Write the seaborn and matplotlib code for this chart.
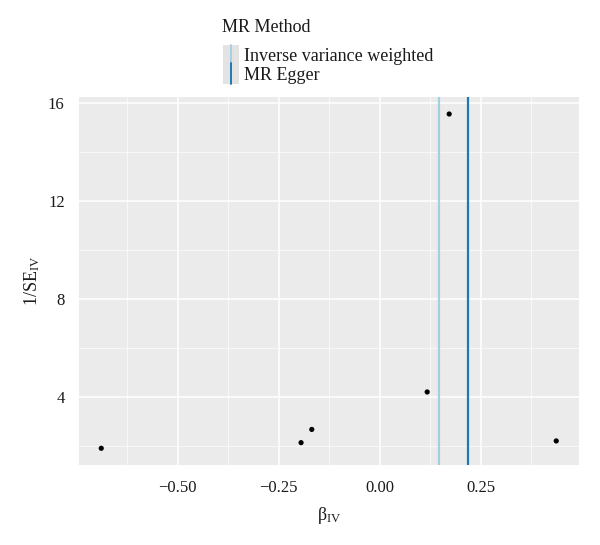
import numpy as np
import pandas as pd
import matplotlib
matplotlib.use("Agg")
import matplotlib.pyplot as plt
import seaborn as sns
from matplotlib.legend_handler import HandlerBase
from matplotlib.patches import Rectangle
from matplotlib.lines import Line2D
from matplotlib.ticker import FixedLocator

# ---- data ----
beta_iv = [-0.689, -0.1945, -0.168, 0.1176, 0.172, 0.437]
inv_se_iv = [1.90, 2.13, 2.67, 4.20, 15.55, 2.20]
methods = ["Inverse variance weighted", "MR Egger"]
method_b = [0.147, 0.218]
method_colors = ["#A6CEE3", "#1F78B4"]
x_ticks = [-0.50, -0.25, 0.00, 0.25]
x_tick_labels = ["\u22120.50", "\u22120.25", "0.00", "0.25"]
y_ticks = [4, 8, 12, 16]
y_tick_labels = ["4", "8", "12", "16"]

df = pd.DataFrame({"b": beta_iv, "inv_se": inv_se_iv})

sns.set_theme(style="darkgrid")
plt.rcParams["font.family"] = ["Liberation Serif", "DejaVu Serif"]
plt.rcParams["mathtext.fontset"] = "custom"
plt.rcParams["mathtext.rm"] = "Liberation Serif"
plt.rcParams["mathtext.it"] = "Liberation Serif:italic"

fig = plt.figure(figsize=(6.0, 5.45), dpi=100)
fig.patch.set_facecolor("white")
ax = fig.add_axes([78.5 / 600, 1 - 465 / 545, (579 - 78.5) / 600, (465 - 97.3) / 545])
ax.set_facecolor("#EBEBEB")

for b, c in zip(method_b, method_colors):
    ax.axvline(b, color=c, lw=1.6, zorder=2)

sns.scatterplot(data=df, x="b", y="inv_se", color="black", s=14, edgecolor="none",
                ax=ax, zorder=3)

xr = max(beta_iv) - min(beta_iv)
yr = max(inv_se_iv) - min(inv_se_iv)
ax.set_xlim(min(beta_iv) - 0.05 * xr, max(beta_iv) + 0.05 * xr)
ax.set_ylim(min(inv_se_iv) - 0.05 * yr, max(inv_se_iv) + 0.05 * yr)

ax.xaxis.set_major_locator(FixedLocator(x_ticks))
ax.set_xticklabels(x_tick_labels)
ax.yaxis.set_major_locator(FixedLocator(y_ticks))
ax.set_yticklabels(y_tick_labels)
ax.xaxis.set_minor_locator(FixedLocator([-0.625, -0.375, -0.125, 0.125, 0.375]))
ax.yaxis.set_minor_locator(FixedLocator([2, 6, 10, 14]))

ax.grid(which="major", color="white", lw=1.1)
ax.grid(which="minor", color="white", lw=0.55, alpha=0.8)
ax.set_axisbelow(True)
for s in ax.spines.values():
    s.set_visible(False)

ax.tick_params(axis="both", which="major", length=2, width=0.8, color="#555555",
               labelsize=12, labelcolor="#1a1a1a", direction="out")
ax.tick_params(axis="y", pad=8)
ax.tick_params(axis="x", pad=9)
ax.tick_params(which="minor", length=0)

ax.set_xlabel(r"$\mathrm{\beta}_{\mathrm{IV}}$", fontsize=13, color="#1a1a1a", labelpad=6)
ax.set_ylabel(r"$\mathrm{1/SE}_{\mathrm{IV}}$", fontsize=13, color="#1a1a1a", labelpad=4)


class VKey(HandlerBase):
    def create_artists(self, legend, orig_handle, xdescent, ydescent, width, height,
                       fontsize, trans):
        r = Rectangle((-xdescent, -ydescent - 1.5), width, height + 3, facecolor="#E3E3E3",
                      edgecolor="none", transform=trans)
        l = Line2D([width / 2 - xdescent] * 2, [-ydescent - 1.5, height - ydescent + 1.5],
                   color=orig_handle.get_color(), lw=1.4, transform=trans)
        return [r, l]


fig.text(222 / 600, 1 - 28 / 545, "MR Method", fontsize=13, color="#1a1a1a",
         ha="left", va="center")

handles = [Line2D([], [], color=c) for c in method_colors]
leg = fig.legend(handles, methods, loc="upper left",
                 bbox_to_anchor=(222.5 / 600, 1 - 47 / 545), frameon=False,
                 fontsize=13, handler_map={Line2D: VKey()},
                 handlelength=0.9, handleheight=1.0, labelspacing=0.0,
                 handletextpad=0.3, borderaxespad=0, borderpad=0)
for t in leg.get_texts():
    t.set_color("#1a1a1a")

fig.savefig("out.png", dpi=100, facecolor="white")
